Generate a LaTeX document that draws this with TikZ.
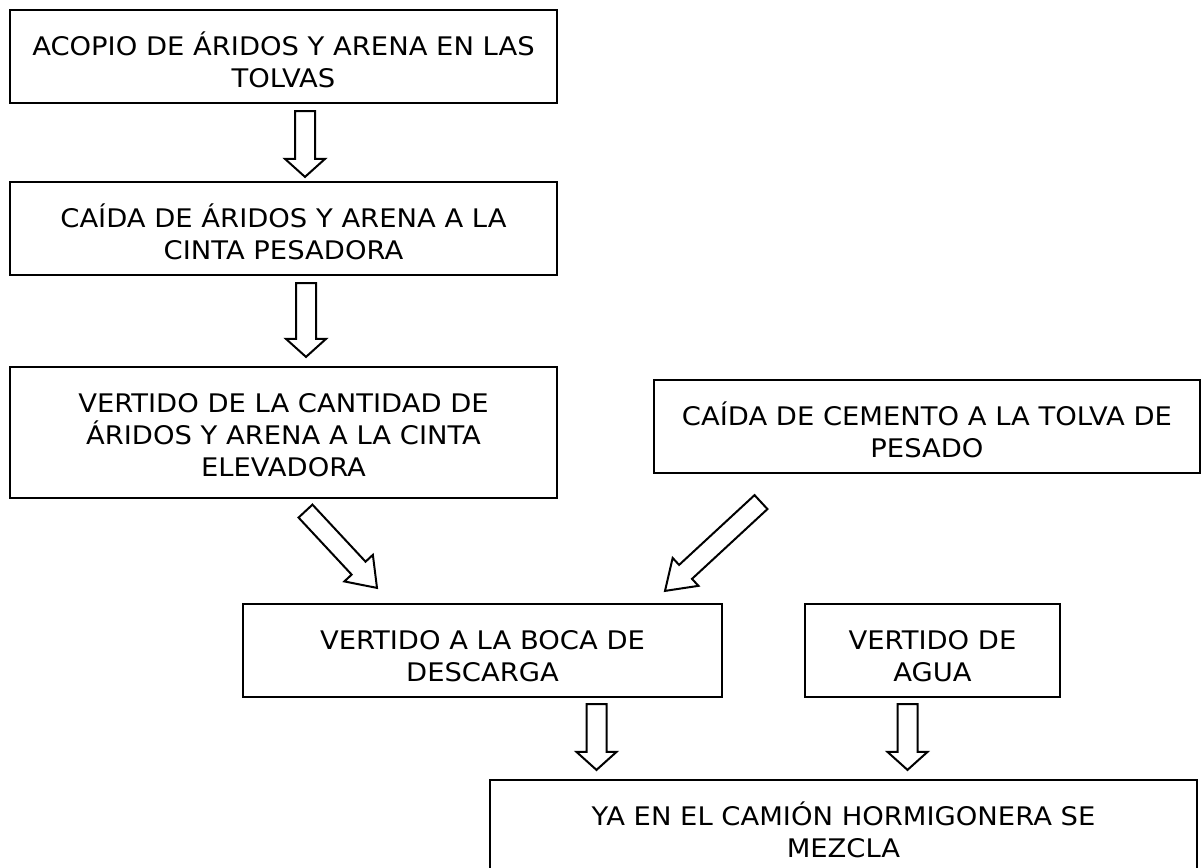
\documentclass[tikz,border=0pt]{standalone}
\usepackage{fontspec}
\setmainfont{DejaVu Sans}[FakeStretch=1.07]
\usetikzlibrary{calc}
\tikzset{
  box/.style={draw=black, line width=2.2pt, rectangle, inner sep=0pt},
  lbl/.style={align=center, inner sep=0pt, anchor=base, font=\fontsize{25.6}{32}\selectfont},
  barrow/.style={draw=black, line width=2pt, fill=white, line join=miter},
}
\newcommand{\blockarrow}[5]{% start, end, shaft half, head half, head length
  \coordinate (ba-h) at ($(#2)!#5!(#1)$);
  \draw[barrow] ($(#1)!#3!90:(#2)$) -- ($(ba-h)!#3!90:(#2)$) -- ($(ba-h)!#4!90:(#2)$)
    -- (#2) -- ($(ba-h)!#4!-90:(#2)$) -- ($(ba-h)!#3!-90:(#2)$) -- ($(#1)!#3!-90:(#2)$) -- cycle;
}
\begin{document}
\begin{tikzpicture}[x=1pt,y=-1pt]
\clip (0,0) rectangle (1203,868);
\fill[white] (0,0) rectangle (1203,868);

\node[box, minimum width=547pt, minimum height=93pt] (b1) at (283.5,56.5) {};
\node[lbl] (t1) at ($(b1.north)+(0,79)$) {ACOPIO DE ÁRIDOS Y ARENA EN LAS\\TOLVAS};

\node[box, minimum width=547pt, minimum height=93pt] (b2) at (283.5,228.5) {};
\node[lbl] (t2) at ($(b2.north)+(0,79)$) {CAÍDA DE ÁRIDOS Y ARENA A LA\\CINTA PESADORA};

\node[box, minimum width=547pt, minimum height=131pt] (b3) at (283.5,432.5) {};
\node[lbl] (t3) at ($(b3.north)+(0,111)$) {VERTIDO DE LA CANTIDAD DE\\ÁRIDOS Y ARENA A LA CINTA\\ELEVADORA};

\node[box, minimum width=546pt, minimum height=93pt] (b4) at (927,426.5) {};
\node[lbl] (t4) at ($(b4.north)+(0,79)$) {CAÍDA DE CEMENTO A LA TOLVA DE\\PESADO};

\node[box, minimum width=479pt, minimum height=93pt] (b5) at (482.5,650.5) {};
\node[lbl] (t5) at ($(b5.north)+(0,79)$) {VERTIDO A LA BOCA DE\\DESCARGA};

\node[box, minimum width=255pt, minimum height=93pt] (b6) at (932.5,650.5) {};
\node[lbl] (t6) at ($(b6.north)+(0,79)$) {VERTIDO DE\\AGUA};

\node[box, minimum width=707pt, minimum height=93pt] (b7) at (843.5,826.5) {};
\node[lbl] (t7) at ($(b7.north)+(0,79)$) {YA EN EL CAMIÓN HORMIGONERA SE\\MEZCLA};

% arrow end points
\coordinate (a1s) at ($(b1.south)+(21.5,7)$);
\coordinate (a1e) at ($(b2.north)+(21.5,-4)$);
\coordinate (a2s) at ($(b2.south)+(22.5,7)$);
\coordinate (a2e) at ($(b3.north)+(22.5,-9)$);
\coordinate (a3s) at ($(b3.south)+(22,12)$);
\coordinate (a3e) at ($(b5.north)+(-105.5,-15)$);
\coordinate (a4s) at ($(b4.south)+(-166,28)$);
\coordinate (a4e) at ($(b5.north)+(182.5,-12)$);
\coordinate (a5s) at ($(b5.south)+(114,6)$);
\coordinate (a5e) at ($(b7.north)+(-247,-9)$);
\coordinate (a6s) at ($(b6.south)+(-25,6)$);
\coordinate (a6e) at ($(b7.north)+(64,-9)$);

\blockarrow{a1s}{a1e}{10pt}{20pt}{18pt}
\blockarrow{a2s}{a2e}{10pt}{20pt}{18pt}
\blockarrow{a3s}{a3e}{9.5pt}{19.5pt}{27pt}
\blockarrow{a4s}{a4e}{9.5pt}{19pt}{28pt}
\blockarrow{a5s}{a5e}{10pt}{20pt}{18pt}
\blockarrow{a6s}{a6e}{10pt}{20pt}{18pt}
\end{tikzpicture}
\end{document}
